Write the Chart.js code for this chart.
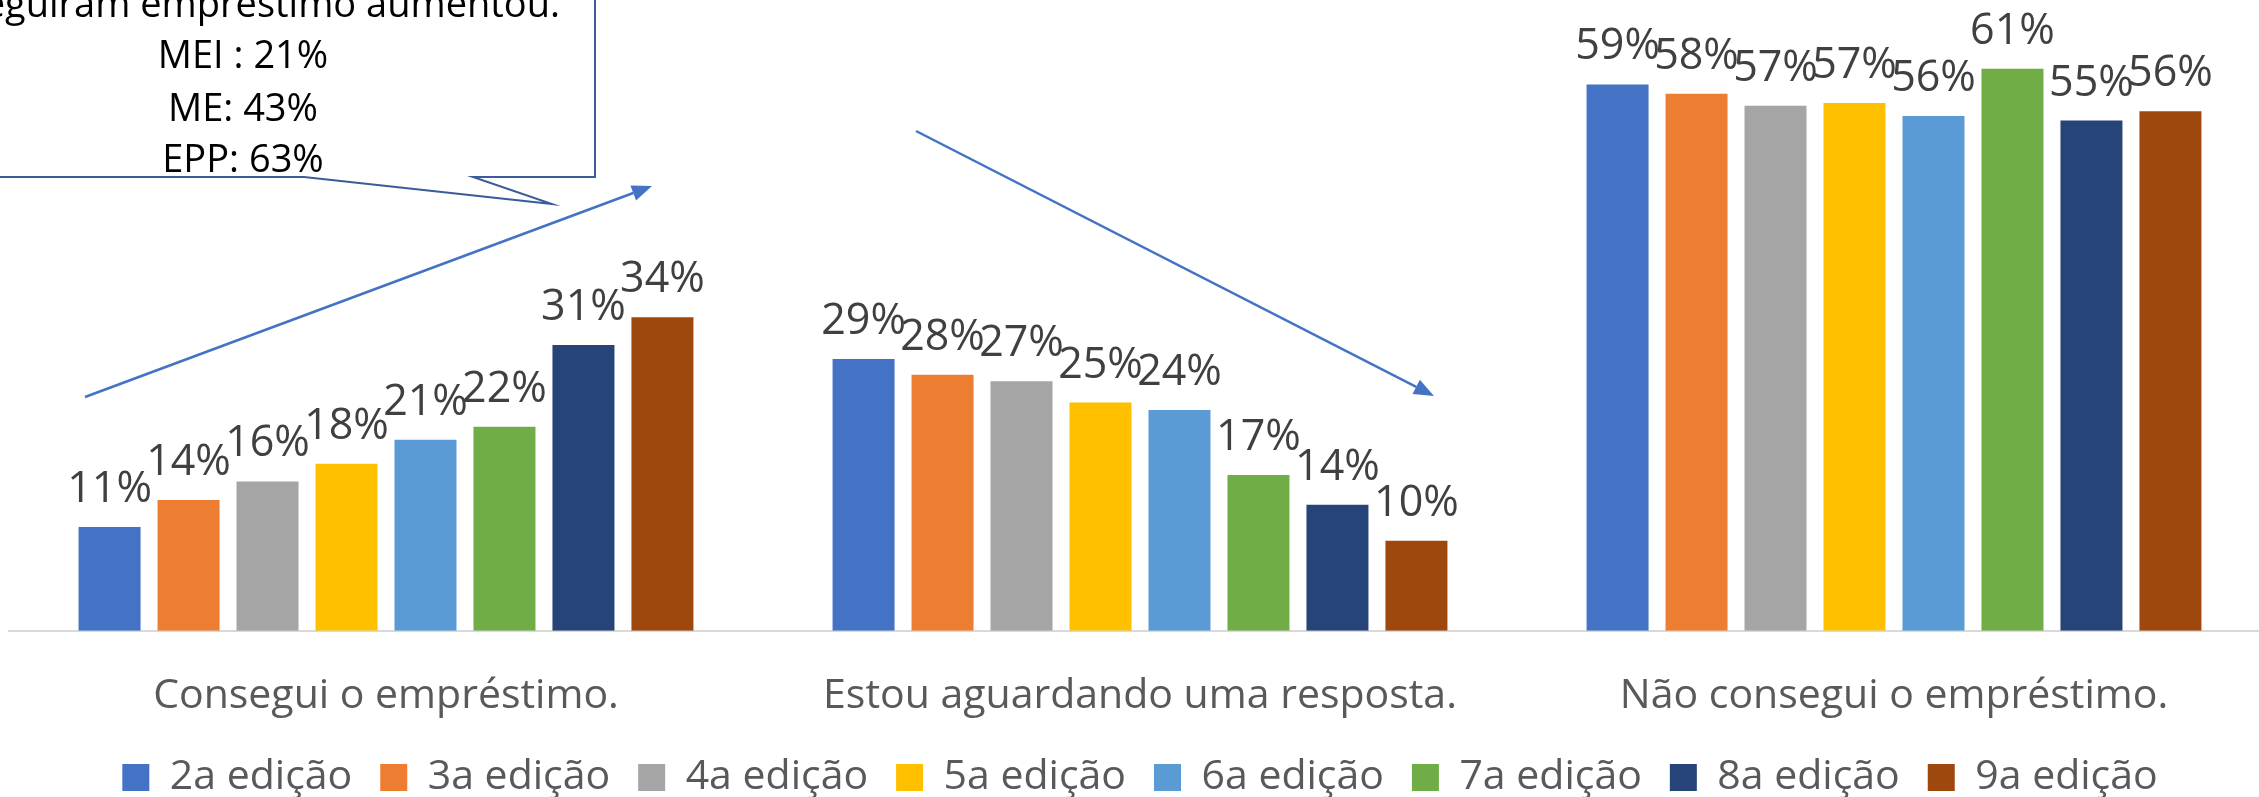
<!DOCTYPE html>
<html>
<head>
<meta charset="utf-8">
<script src="https://cdn.jsdelivr.net/npm/chart.js@4.4.1/dist/chart.umd.min.js"></script>
<style>
  html, body { margin: 0; padding: 0; background: #ffffff; overflow: hidden; width: 2259px; height: 797px; }
  #wrap { position: absolute; left: 0; top: 0; width: 2280px; height: 808px; }
</style>
</head>
<body>
<div id="wrap"><canvas id="c" width="2280" height="808"></canvas></div>
<script>
// ---- Data ----
const categories = ['Consegui o empréstimo.', 'Estou aguardando uma resposta.', 'Não consegui o empréstimo.'];
const editions = ['2a edição', '3a edição', '4a edição', '5a edição', '6a edição', '7a edição', '8a edição', '9a edição'];
const ed2 = [11.2, 29.3, 58.9];
const ed3 = [14.1, 27.6, 57.9];
const ed4 = [16.1, 26.9, 56.6];
const ed5 = [18.0, 24.6, 56.9];
const ed6 = [20.6, 23.8, 55.5];
const ed7 = [22.0, 16.8, 60.6];
const ed8 = [30.8, 13.6, 55.0];
const ed9 = [33.8, 9.7, 56.0];
const seriesValues = [ed2, ed3, ed4, ed5, ed6, ed7, ed8, ed9];
const yMax = 68;

// Callout annotation text
const calloutLines = ['conseguiram empréstimo aumentou.', 'MEI : 21%', 'ME: 43%', 'EPP: 63%'];

// ---- Styles ----
const colors = ['#4472C4', '#ED7D31', '#A5A5A5', '#FFC000', '#5B9BD5', '#70AD47', '#264478', '#9E480E'];
const FONT = '"Open Sans", "Noto Sans", sans-serif';

const valueLabels = {
  id: 'valueLabels',
  afterDatasetsDraw(chart) {
    const ctx = chart.ctx;
    ctx.save();
    ctx.font = '43px ' + FONT;
    ctx.fillStyle = '#404040';
    ctx.textAlign = 'center';
    ctx.textBaseline = 'alphabetic';
    chart.data.datasets.forEach((ds, i) => {
      const meta = chart.getDatasetMeta(i);
      meta.data.forEach((el, j) => {
        ctx.fillText(Math.round(ds.data[j]) + '%', el.x, el.y - 25);
      });
    });
    ctx.restore();
  }
};

function arrow(ctx, x1, y1, x2, y2) {
  const ang = Math.atan2(y2 - y1, x2 - x1);
  const L = 20, W = 8;
  const bx = x2 - L * Math.cos(ang), by = y2 - L * Math.sin(ang);
  ctx.beginPath();
  ctx.moveTo(x1, y1);
  ctx.lineTo(bx, by);
  ctx.stroke();
  ctx.beginPath();
  ctx.moveTo(x2, y2);
  ctx.lineTo(bx + W * Math.sin(ang), by - W * Math.cos(ang));
  ctx.lineTo(bx - W * Math.sin(ang), by + W * Math.cos(ang));
  ctx.closePath();
  ctx.fill();
}

const annotations = {
  id: 'annotations',
  afterDraw(chart) {
    const ctx = chart.ctx;
    ctx.save();
    // arrows
    ctx.strokeStyle = '#4472C4';
    ctx.fillStyle = '#4472C4';
    ctx.lineWidth = 2.5;
    arrow(ctx, 85, 397, 652, 186);
    arrow(ctx, 916, 131, 1434, 396);
    // callout box
    ctx.beginPath();
    ctx.moveTo(-10, 177);
    ctx.lineTo(304, 177);
    ctx.lineTo(552, 204);
    ctx.lineTo(473, 177);
    ctx.lineTo(595, 177);
    ctx.lineTo(595, -10);
    ctx.lineTo(-10, -10);
    ctx.closePath();
    ctx.fillStyle = '#ffffff';
    ctx.fill();
    ctx.strokeStyle = '#3B5C9A';
    ctx.lineWidth = 2;
    ctx.stroke();
    // callout text
    ctx.fillStyle = '#000000';
    ctx.font = '38px ' + FONT;
    ctx.textBaseline = 'alphabetic';
    ctx.textAlign = 'right';
    ctx.fillText(calloutLines[0], 560, 17);
    ctx.textAlign = 'center';
    ctx.fillText(calloutLines[1], 243, 68);
    ctx.fillText(calloutLines[2], 243, 121);
    ctx.fillText(calloutLines[3], 243, 172);
    ctx.restore();
  }
};

function build() {
  new Chart(document.getElementById('c'), {
    type: 'bar',
    data: {
      labels: categories,
      datasets: editions.map((name, i) => ({
        label: name,
        data: seriesValues[i],
        backgroundColor: colors[i],
        borderWidth: 0,
        barPercentage: 0.785,
        categoryPercentage: 0.838
      }))
    },
    options: {
      responsive: false,
      animation: false,
      devicePixelRatio: 1,
      layout: { padding: { left: 9, right: 9, top: 0, bottom: 0 } },
      plugins: {
        tooltip: { enabled: false },
        legend: {
          position: 'bottom',
          labels: {
            font: { family: FONT, size: 41 },
            color: '#595959',
            boxWidth: 27,
            boxHeight: 27,
            padding: 28
          }
        }
      },
      scales: {
        x: {
          grid: { display: true, drawOnChartArea: false, drawTicks: true, tickLength: 33, color: 'rgba(0,0,0,0)' },
          border: { display: true, color: '#D9D9D9', width: 2 },
          ticks: { padding: 8, font: { family: FONT, size: 41 }, color: '#595959', maxRotation: 0, autoSkip: false }
        },
        y: { display: false, min: 0, max: yMax }
      }
    },
    plugins: [valueLabels, annotations]
  });
}

if (document.fonts && document.fonts.load) {
  Promise.all([document.fonts.load('41px "Open Sans"'), document.fonts.load('43px "Open Sans"')])
    .then(build, build);
} else {
  build();
}
</script>
</body>
</html>
